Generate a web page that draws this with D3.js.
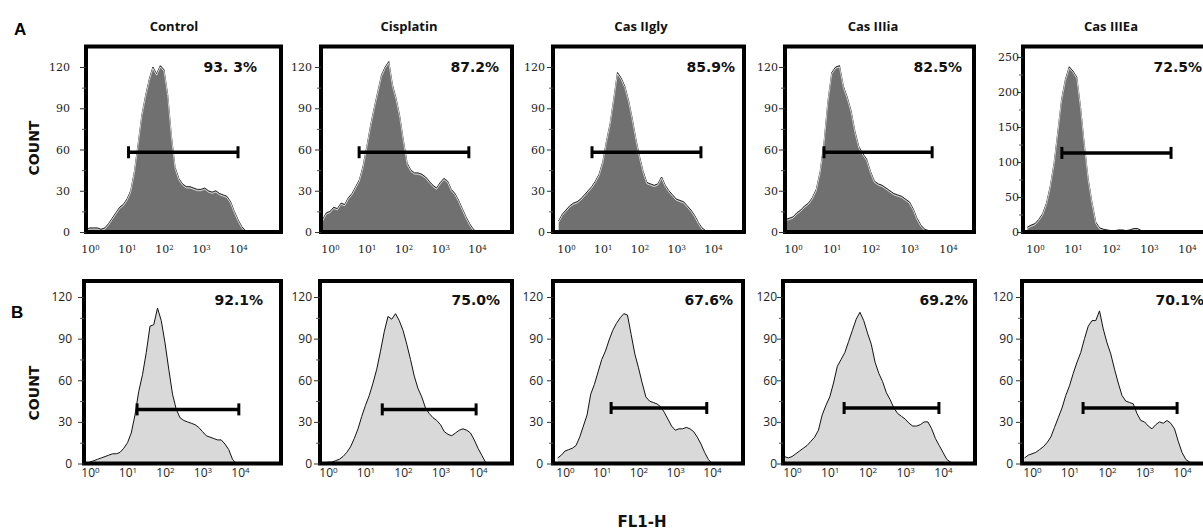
<!DOCTYPE html>
<html>
<head>
<meta charset="utf-8">
<script src="https://cdn.jsdelivr.net/npm/d3@7"></script>
<style>
  body { margin: 0; background: #fff; }
  svg { display: block; }
</style>
</head>
<body>
<div class="canvas"></div>
<script>
// log10(FL1-H) channel positions of the histogram samples
const channels = [-0.2, -0.1, 0, 0.1, 0.2, 0.3, 0.4, 0.5, 0.6, 0.7, 0.8, 0.9, 1.0, 1.1, 1.2, 1.3, 1.4, 1.5, 1.6, 1.7,
  1.8, 1.9, 2.0, 2.1, 2.2, 2.3, 2.4, 2.5, 2.6, 2.7, 2.8, 2.9, 3.0, 3.1, 3.2, 3.3, 3.4, 3.5, 3.6, 3.7,
  3.8, 3.9, 4.0, 4.1, 4.2, 4.3, 4.4]

const titles = ['Control', 'Cisplatin', 'Cas IIgly', 'Cas IIIia', 'Cas IIIEa']
const pctA = ['93. 3%', '87.2%', '85.9%', '82.5%', '72.5%']
const pctB = ['92.1%', '75.0%', '67.6%', '69.2%', '70.1%']

const countTicks = [0, 30, 60, 90, 120]
const countTicksWide = [0, 50, 100, 150, 200, 250]
const decadeTicks = [1, 10, 100, 1000, 10000]

// row A counts
const controlA = [1, 2, 3, 3, 3, 2, 3, 6, 10, 14, 18, 20, 24, 30, 44, 64, 85, 99, 111, 120,
  115, 121, 118, 100, 70, 47, 39, 35, 33, 33, 32, 31, 31, 32, 30, 29, 30, 28, 27, 26,
  22, 15, 9, 4, 1, 0, 0]
const cisplatinA = [9, 14, 15, 18, 17, 21, 20, 25, 28, 33, 38, 48, 62, 77, 90, 102, 114, 120, 124, 107,
  97, 84, 66, 50, 45, 43, 43, 42, 40, 37, 34, 32, 36, 39, 37, 31, 28, 23, 17, 11,
  6, 2, 0, 0, 0, 0, 0]
const iiglyA = [8, 13, 16, 19, 21, 22, 24, 27, 30, 33, 37, 42, 51, 66, 79, 97, 116, 112, 106, 96,
  83, 68, 55, 44, 36, 35, 34, 35, 40, 34, 30, 27, 24, 23, 22, 19, 16, 12, 7, 3,
  1, 0, 0, 0, 0, 0, 0]
const iiiiaA = [9, 10, 11, 14, 16, 19, 21, 25, 31, 44, 65, 95, 116, 120, 121, 106, 98, 88, 73, 62,
  57, 53, 44, 37, 35, 34, 32, 30, 28, 27, 26, 24, 22, 17, 10, 5, 2, 1, 0, 0,
  0, 0, 0, 0, 0, 0, 0]
const iiieaA = [7, 10, 12, 18, 26, 41, 65, 98, 143, 190, 218, 236, 230, 221, 178, 124, 76, 42, 14, 6,
  4, 3, 2, 2, 3, 3, 2, 3, 5, 5, 2, 1, 0, 0, 0, 0, 0, 0, 0, 0,
  0, 0, 0, 0, 0, 0, 0]

// row B counts
const controlB = [0, 0, 1, 2, 3, 4, 5, 6, 7, 7, 8, 11, 15, 22, 35, 52, 64, 80, 99, 100,
  112, 103, 87, 68, 50, 39, 33, 31, 30, 29, 28, 26, 23, 20, 19, 18, 17, 17, 14, 10,
  3, 0, 0, 0, 0, 0, 0]
const cisplatinB = [0, 0, 1, 1, 2, 3, 5, 8, 12, 18, 25, 34, 42, 49, 58, 68, 81, 95, 106, 104,
  108, 103, 96, 86, 75, 63, 54, 48, 40, 36, 33, 31, 28, 23, 21, 20, 22, 24, 25, 24,
  22, 17, 11, 6, 1, 0, 0]
const iiglyB = [4, 6, 9, 10, 11, 13, 19, 27, 35, 50, 57, 66, 75, 81, 89, 96, 101, 105, 108, 107,
  93, 79, 69, 58, 48, 45, 44, 43, 41, 37, 32, 27, 24, 25, 25, 26, 25, 23, 19, 14,
  8, 3, 0, 0, 0, 0, 0]
const iiiiaB = [5, 4, 5, 7, 9, 11, 13, 16, 19, 24, 35, 42, 48, 58, 70, 75, 80, 88, 96, 104,
  109, 103, 94, 86, 73, 65, 59, 51, 46, 40, 36, 34, 32, 29, 27, 27, 28, 30, 30, 25,
  18, 13, 8, 3, 1, 0, 0]
const iiieaB = [4, 6, 7, 8, 10, 12, 15, 19, 26, 33, 40, 49, 56, 65, 73, 80, 90, 99, 103, 103,
  110, 97, 87, 79, 68, 58, 49, 45, 44, 43, 36, 31, 30, 27, 25, 28, 30, 29, 31, 29,
  25, 16, 8, 3, 1, 0, 0]

// gate markers: FL1-H range and count level
const gatesA = [[11, 10000], [6.2, 6000], [5.1, 4700], [6.3, 3900], [5.1, 3800]]
const gateLevelA = [58, 58, 58, 58, 113]
const gatesB = [[18, 9300], [28, 8900], [18, 7200], [24, 7800], [23, 7400]]
const gateLevelB = [39, 39, 40, 40, 40]

// ---- layout (pixels) ----
const frameLeftA = [86, 321, 553, 785, 1023]
const frameRightA = [281, 512, 744, 974, 1216]
const frameLeftB = [84, 320, 553, 783, 1022]
const frameRightB = [281, 512, 743, 975, 1216]
const dec0A = [90, 330, 566, 793, 1035]
const dec4A = [238, 477, 713, 948, 1187]
const dec0B = [90, 328, 565, 792, 1032]
const dec4B = [240, 478, 712, 943, 1182]
const labelGapA = [16, 9, 8, 7, 4]
const labelGapB = [12, 8, 10, 6, 9]
const pctInsetA = [24, 13, 9, 12, 14]
const pctInsetB = [18, 12, 10, 7, 12]

const rows = {
  A: {top: 46.5, bottom: 232, yTop: 67, fill: '#707070', dark: true,
      tickFont: "'DejaVu Serif', serif", xPad: 13},
  B: {top: 281, bottom: 463.5, yTop: 297, fill: '#d9d9d9', dark: false,
      tickFont: "'Open Sans', sans-serif", xPad: 5}
}

const panels = [
  {row: 'A', i: 0, counts: controlA}, {row: 'A', i: 1, counts: cisplatinA},
  {row: 'A', i: 2, counts: iiglyA}, {row: 'A', i: 3, counts: iiiiaA},
  {row: 'A', i: 4, counts: iiieaA, wide: true},
  {row: 'B', i: 0, counts: controlB}, {row: 'B', i: 1, counts: cisplatinB},
  {row: 'B', i: 2, counts: iiglyB}, {row: 'B', i: 3, counts: iiiiaB},
  {row: 'B', i: 4, counts: iiieaB}
]

const svg = d3.select('.canvas').append('svg')
  .attr('width', 1203)
  .attr('height', 532)

const defs = svg.append('defs')

panels.forEach((p, k) => {
  const r = rows[p.row]
  const isA = p.row === 'A'
  const left = (isA ? frameLeftA : frameLeftB)[p.i]
  const right = (isA ? frameRightA : frameRightB)[p.i]
  const gate = (isA ? gatesA : gatesB)[p.i]
  const gateLevel = (isA ? gateLevelA : gateLevelB)[p.i]
  const pct = (isA ? pctA : pctB)[p.i]

  const x = d3.scaleLog()
    .domain([1, 10000])
    .range([(isA ? dec0A : dec0B)[p.i], (isA ? dec4A : dec4B)[p.i]])

  const top = p.wide ? 250 : 120
  const y = d3.scaleLinear()
    .domain([0, top])
    .range([r.bottom, p.wide ? 57 : r.yTop])

  const g = svg.append('g')

  // clip to the inside of the frame
  defs.append('clipPath').attr('id', 'clip' + k)
    .append('rect')
    .attr('x', left).attr('y', r.top)
    .attr('width', right - left).attr('height', r.bottom - r.top)

  const data = channels.map((e, j) => ({v: Math.pow(10, e), c: p.counts[j]}))

  const area = d3.area()
    .x(d => x(d.v))
    .y0(y(0))
    .y1(d => y(d.c))

  const line = d3.line()
    .x(d => x(d.v))
    .y(d => y(d.c))

  const plot = g.append('g').attr('clip-path', `url(#clip${k})`)

  plot.append('path')
    .datum(data)
    .attr('d', area)
    .attr('fill', r.fill)

  if (r.dark) {
    plot.append('path')
      .datum(data)
      .attr('d', line)
      .attr('fill', 'none')
      .attr('stroke', '#262626')
      .attr('stroke-width', 1)
    plot.append('path')
      .datum(data)
      .attr('d', line)
      .attr('transform', 'translate(0,1.3)')
      .attr('fill', 'none')
      .attr('stroke', '#f4f4f4')
      .attr('stroke-width', 0.8)
  } else {
    plot.append('path')
      .datum(data)
      .attr('d', line)
      .attr('fill', 'none')
      .attr('stroke', '#111')
      .attr('stroke-width', 1)
  }

  // gate bar
  const gy = y(gateLevel)
  const gate_g = g.append('g').attr('stroke', '#000')
  gate_g.append('line')
    .attr('x1', x(gate[0])).attr('x2', x(gate[1]))
    .attr('y1', gy).attr('y2', gy)
    .attr('stroke-width', 3.5)
  gate.forEach(v => {
    gate_g.append('line')
      .attr('x1', x(v)).attr('x2', x(v))
      .attr('y1', gy - 6).attr('y2', gy + 6)
      .attr('stroke-width', 3)
  })

  // frame
  g.append('rect')
    .attr('x', left).attr('y', r.top)
    .attr('width', right - left).attr('height', r.bottom - r.top)
    .attr('fill', 'none')
    .attr('stroke', '#000')
    .attr('stroke-width', 4)

  // y axis
  const gap = (isA ? labelGapA : labelGapB)[p.i]
  const ticks = p.wide ? countTicksWide : countTicks
  const yAxis = d3.axisLeft(y).tickValues(ticks).tickSize(6).tickPadding(gap - 6)
  const ya = g.append('g')
    .attr('transform', `translate(${left},0)`)
    .call(yAxis)
  ya.select('.domain').remove()
  ya.selectAll('.tick line').attr('stroke', '#333')
  ya.selectAll('.tick text')
    .attr('font-family', r.tickFont)
    .attr('font-size', isA ? 11 : 12)
    .attr('fill', '#222')

  const minor = d3.range(0, top, p.wide ? 25 : 15).filter(v => !ticks.includes(v))
  const ym = g.append('g')
    .attr('transform', `translate(${left},0)`)
    .call(d3.axisLeft(y).tickValues(minor).tickSize(4).tickFormat(''))
  ym.select('.domain').remove()
  ym.selectAll('.tick line').attr('stroke', '#555')

  // x axis: decade labels
  const xa = g.append('g')
    .attr('transform', `translate(0,${r.bottom})`)
    .call(d3.axisBottom(x).tickValues(decadeTicks).tickSize(0).tickPadding(r.xPad).tickFormat(''))
  xa.select('.domain').remove()
  xa.selectAll('.tick text')
    .attr('font-family', r.tickFont)
    .attr('font-size', isA ? 11 : 12)
    .attr('fill', '#222')
    .each(function (d) {
      const t = d3.select(this)
      t.text('10')
      t.append('tspan')
        .attr('dy', '-0.45em')
        .attr('font-size', isA ? 7 : 8)
        .text(Math.round(Math.log10(d)))
    })

  // percent label
  g.append('text')
    .attr('x', right - (isA ? pctInsetA : pctInsetB)[p.i])
    .attr('y', isA ? 72 : 305)
    .attr('text-anchor', 'end')
    .attr('font-family', "'DejaVu Sans', sans-serif")
    .attr('font-weight', 'bold')
    .attr('font-size', 14)
    .attr('fill', '#111')
    .text(pct)

  // column title
  if (isA) {
    g.append('text')
      .attr('x', left + 88)
      .attr('y', 31)
      .attr('text-anchor', 'middle')
      .attr('font-family', "'Open Sans', sans-serif")
      .attr('font-weight', 'bold')
      .attr('font-size', 13)
      .attr('fill', '#111')
      .text(titles[p.i])
  }
})

// row letters
svg.append('text').attr('x', 14).attr('y', 35)
  .attr('font-family', "'Liberation Sans', Arial, sans-serif")
  .attr('font-weight', 'bold').attr('font-size', 17).text('A')
svg.append('text').attr('x', 11).attr('y', 318)
  .attr('font-family', "'Liberation Sans', Arial, sans-serif")
  .attr('font-weight', 'bold').attr('font-size', 17).text('B')

// axis titles
const countLabel = [148, 393]
countLabel.forEach(cy => {
  svg.append('text')
    .attr('transform', `translate(39,${cy}) rotate(-90)`)
    .attr('text-anchor', 'middle')
    .attr('font-family', "'DejaVu Sans', sans-serif")
    .attr('font-weight', 'bold')
    .attr('font-size', 14)
    .attr('fill', '#111')
    .text('COUNT')
})

svg.append('text')
  .attr('x', 642).attr('y', 527)
  .attr('text-anchor', 'middle')
  .attr('font-family', "'DejaVu Sans', sans-serif")
  .attr('font-weight', 'bold')
  .attr('font-size', 15)
  .attr('fill', '#111')
  .text('FL1-H')
</script>
</body>
</html>
